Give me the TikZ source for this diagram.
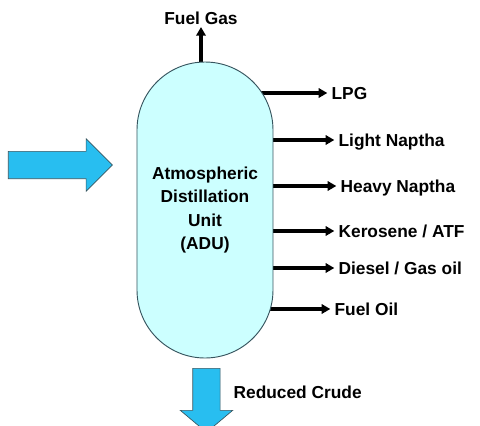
\documentclass[tikz,border=0pt]{standalone}
\usepackage{fontspec}
\setmainfont{Liberation Sans}
\usetikzlibrary{arrows.meta, positioning, shapes.arrows, backgrounds}

\definecolor{vesselcyan}{RGB}{204,255,255}
\definecolor{feedblue}{RGB}{40,190,240}
\definecolor{rimgrey}{RGB}{55,85,95}

\begin{document}
\begin{tikzpicture}[
  font=\fontsize{13}{17.5}\selectfont\bfseries,
  >={Triangle[length=6.5pt,width=7pt]},
  x=0.75pt, y=-0.75pt,
  vessel/.style={draw=rimgrey, fill=vesselcyan, line width=0.7pt,
                 rounded corners=51pt, minimum width=102pt, minimum height=222pt,
                 align=center, inner sep=0pt},
  product/.style={anchor=west, inner sep=1pt, text height=9.5pt, text depth=0.5pt},
  takeoff/.style={->, line width=2.8pt, shorten >=2pt},
  bigarrow/.style={single arrow, draw=rimgrey, fill=feedblue, line width=0.5pt,
                   inner xsep=0pt, inner ysep=10pt, single arrow head extend=9.4pt},
]
\path[use as bounding box] (0,0) rectangle (480,426);

% column
\node[vessel] (adu) at (205,210)
  {Atmospheric\\Distillation\\Unit\\(ADU)};

% feed and residue
\node[bigarrow, anchor=tail, minimum height=78pt] (feed) at (8,165) {};
\node[bigarrow, anchor=tail, minimum height=48pt, shape border rotate=270,
      inner xsep=10pt, inner ysep=0pt, single arrow tip angle=100]
  (bottoms) at (206.5,368) {};

% products
\node[product, anchor=south] (fuelgas) at (201,27) {Fuel Gas};
\node[product] (lpg)      at (330,93)  {LPG};
\node[product] (lnaptha)  at (337,140) {Light Naptha};
\node[product] (hnaptha)  at (339,186) {Heavy Naptha};
\node[product] (kero)     at (337,231) {Kerosene / ATF};
\node[product] (diesel)   at (337,268) {Diesel / Gas oil};
\node[product] (fueloil)  at (333,309) {Fuel Oil};
\node[product] (residue)  at (232,392) {Reduced Crude};

\begin{scope}[on background layer]
\draw[takeoff, shorten >=0pt] (fuelgas.south |- adu.center) -- (fuelgas.south);
\foreach \cut in {lpg, lnaptha, hnaptha, kero, diesel, fueloil}
  \draw[takeoff] (adu.center |- \cut.west) -- (\cut.west);
\end{scope}
\end{tikzpicture}
\end{document}
